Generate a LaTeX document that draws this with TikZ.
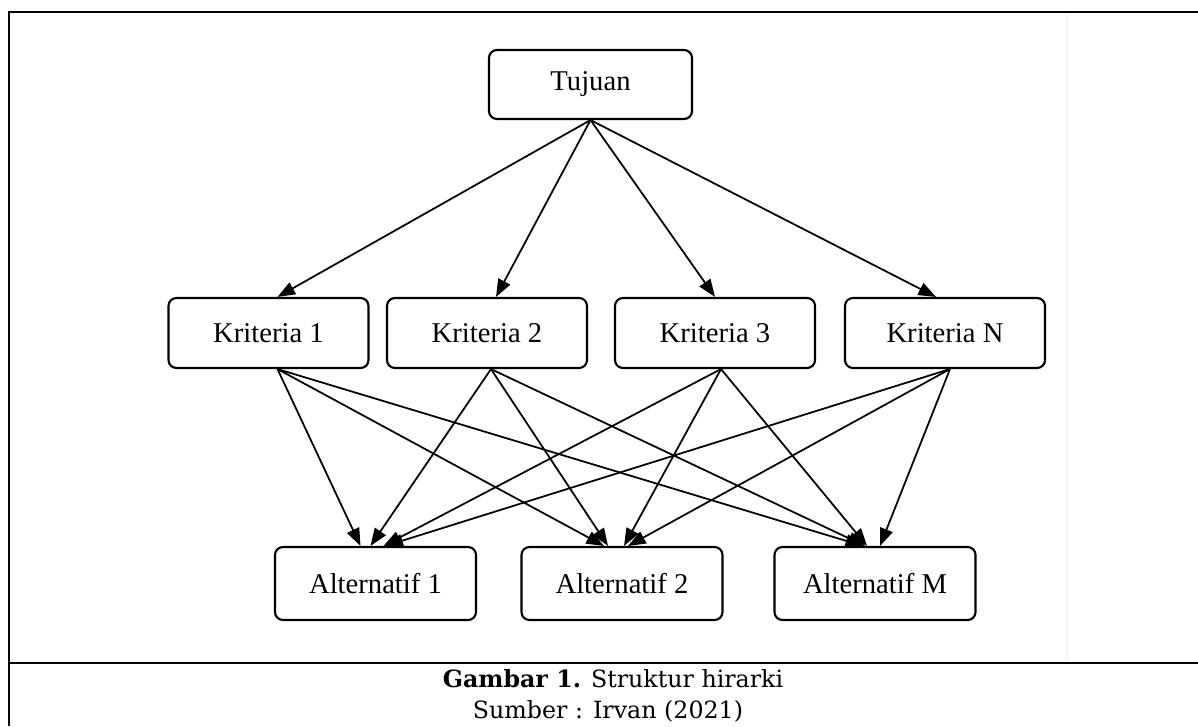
\documentclass[tikz,border=0pt]{standalone}
\usepackage{fontspec}
\setmainfont{Liberation Serif}
\newfontfamily\capfont{DejaVu Serif}
\usetikzlibrary{arrows.meta, positioning}

\begin{document}
\begin{tikzpicture}[
    font=\fontsize{16.3}{18}\selectfont,
    >={Triangle[length=10pt, width=7.5pt]},
    box/.style={draw, line width=1.2pt, rounded corners=4.5pt, fill=white, align=center,
                inner sep=4pt, minimum width=4cm, minimum height=1.4cm},
    altbox/.style={box, minimum width=4.02cm, minimum height=1.46cm},
    arrow/.style={->, line width=1pt},
    rule/.style={line width=0.9pt},
    thickrule/.style={line width=1.7pt},
]

\useasboundingbox (0,0) rectangle (23.96,-14.52);

% table frame
\draw[black!3, line width=2pt] (21.34,-0.3) -- (21.34,-13.2);
\draw[thickrule] (0.18,-14.52) -- (0.18,-0.24) -- (3.0,-0.24);
\draw[rule] (3.0,-0.24) -- (21.4,-0.24);
\draw[thickrule] (21.4,-0.24) -- (23.96,-0.24);
\draw[rule] (0.18,-13.26) -- (23.96,-13.26);

\node[box, minimum width=4.06cm, minimum height=1.38cm] (tujuan) at (11.81,-1.69) {Tujuan};

\node[box] (k1) at (5.37,-6.66) {Kriteria 1};
\node[box] (k2) at (9.74,-6.66) {Kriteria 2};
\node[box] (k3) at (14.30,-6.66) {Kriteria 3};
\node[box] (kn) at (18.90,-6.66) {Kriteria N};

\node[altbox] (a1) at (7.51,-11.67) {Alternatif 1};
\node[altbox] (a2) at (12.44,-11.67) {Alternatif 2};
\node[altbox] (am) at (17.50,-11.67) {Alternatif M};

\foreach \k/\s in {k1/0.18, k2/0.18, k3/0, kn/-0.18}
    \draw[arrow] (tujuan.south) -- ([xshift=\s cm]\k.north);

\foreach \k/\ks/\a/\as in {k1/0.18/a1/-0.3, k1/0.18/a2/-0.36, k1/0.18/am/-0.24,
                           k2/0.08/a1/-0.1, k2/0.08/a2/-0.28, k2/0.08/am/-0.2,
                           k3/0.12/a1/0.16, k3/0.12/a2/0.04, k3/0.12/am/-0.16,
                           kn/0.1/a1/0.2, kn/0.1/a2/0.12, kn/0.1/am/0.1}
    \draw[arrow] ([xshift=\ks cm]\k.south) -- ([xshift=\as cm]\a.north);

\node[anchor=base, font=\capfont\fontsize{13.5}{16}\selectfont] (caption) at (12.26,-13.74)
    {\textbf{Gambar 1.} Struktur hirarki};
\node[anchor=base, font=\capfont\fontsize{13.5}{16}\selectfont] (source) at (12.16,-14.37)
    {Sumber : Irvan (2021)};

\end{tikzpicture}
\end{document}
